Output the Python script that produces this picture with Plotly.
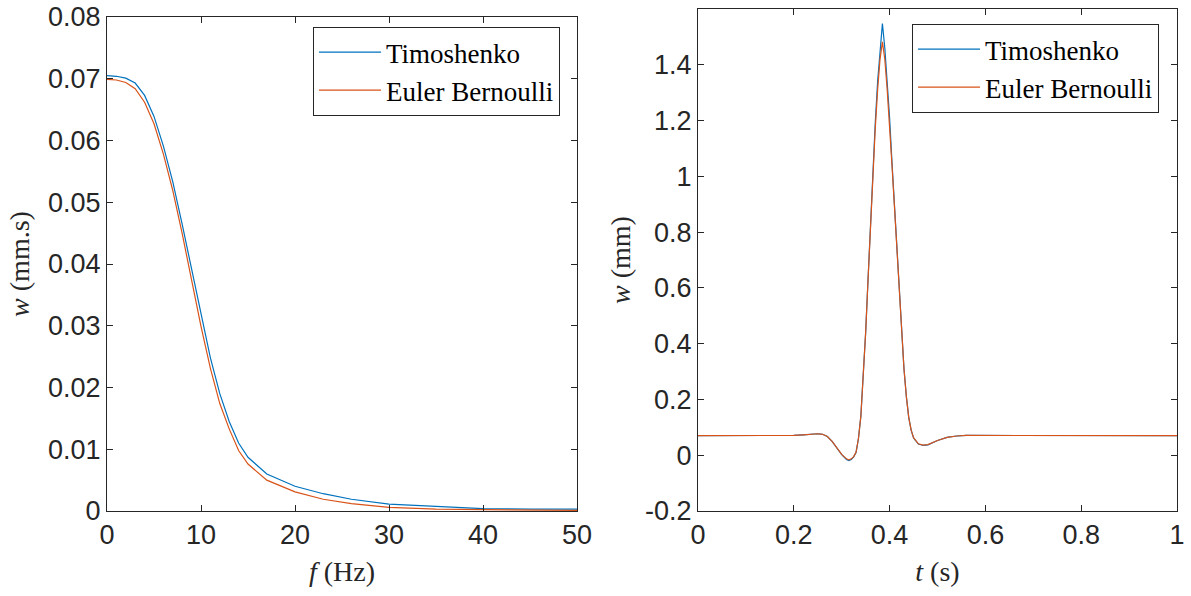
import plotly.graph_objects as go

# ---------------- data: left panel (frequency domain) ----------------
freq = [0, 1, 2, 3, 4, 5, 6, 7, 8, 9, 10, 11, 12, 13, 14, 15, 17, 20, 23, 26, 30, 35, 40, 45, 50]
timo_f = [0.0705, 0.0704, 0.0701, 0.0693, 0.0673, 0.0639, 0.0591, 0.0533, 0.0464, 0.0390,
          0.0316, 0.0248, 0.0190, 0.0145, 0.0110, 0.0087, 0.0060, 0.0040, 0.0028, 0.0019,
          0.0011, 0.0007, 0.0004, 0.0003, 0.0003]
euler_f = [0.0699, 0.0698, 0.0694, 0.0684, 0.0662, 0.0627, 0.0578, 0.0519, 0.0449, 0.0374,
           0.0299, 0.0231, 0.0174, 0.0133, 0.0098, 0.0076, 0.0050, 0.0031, 0.0019, 0.0012,
           0.0006, 0.0003, 0.0002, 0.0001, 0.0001]

# ---------------- data: right panel (time domain) ----------------
time = [0, 0.05, 0.1, 0.15, 0.2, 0.22, 0.24, 0.25, 0.26, 0.27, 0.28, 0.29, 0.30, 0.31, 0.315,
        0.32, 0.325, 0.33, 0.335, 0.34, 0.345, 0.35, 0.355, 0.36, 0.365, 0.37, 0.375, 0.38,
        0.385, 0.39, 0.395, 0.40, 0.405, 0.41, 0.415, 0.42, 0.425, 0.43, 0.435, 0.44, 0.445,
        0.45, 0.46, 0.47, 0.48, 0.49, 0.50, 0.52, 0.54, 0.56, 0.6, 0.7, 0.8, 0.9, 1.0]
timo_t = [0.070, 0.070, 0.070, 0.070, 0.071, 0.073, 0.076, 0.077, 0.075, 0.067, 0.050, 0.026,
          0.002, -0.015, -0.019, -0.015, -0.006, 0.010, 0.060, 0.140, 0.270, 0.440, 0.630,
          0.830, 1.030, 1.190, 1.340, 1.460, 1.548, 1.460, 1.340, 1.210, 1.050, 0.900, 0.740,
          0.580, 0.430, 0.310, 0.210, 0.135, 0.090, 0.062, 0.040, 0.035, 0.037, 0.045, 0.053,
          0.064, 0.069, 0.071, 0.071, 0.070, 0.070, 0.070, 0.070]
euler_t = [0.070, 0.070, 0.070, 0.070, 0.071, 0.073, 0.076, 0.077, 0.075, 0.067, 0.050, 0.027,
           0.003, -0.013, -0.017, -0.013, -0.005, 0.011, 0.060, 0.140, 0.270, 0.440, 0.630,
           0.830, 1.020, 1.170, 1.310, 1.420, 1.482, 1.420, 1.310, 1.190, 1.040, 0.895, 0.738,
           0.580, 0.430, 0.310, 0.210, 0.135, 0.090, 0.063, 0.041, 0.036, 0.038, 0.045, 0.053,
           0.064, 0.069, 0.071, 0.071, 0.070, 0.070, 0.070, 0.070]

series_names = ["Timoshenko", "Euler Bernoulli"]
colors = ["#0072BD", "#D95319"]

left_xticks = [0, 10, 20, 30, 40, 50]
left_yticks = [0, 0.01, 0.02, 0.03, 0.04, 0.05, 0.06, 0.07, 0.08]
left_ytext = ["0", "0.01", "0.02", "0.03", "0.04", "0.05", "0.06", "0.07", "0.08"]
right_xticks = [0, 0.2, 0.4, 0.6, 0.8, 1.0]
right_xtext = ["0", "0.2", "0.4", "0.6", "0.8", "1"]
right_yticks = [-0.2, 0, 0.2, 0.4, 0.6, 0.8, 1.0, 1.2, 1.4]
right_ytext = ["-0.2", "0", "0.2", "0.4", "0.6", "0.8", "1", "1.2", "1.4"]

W, H = 1191, 596
tick_font = dict(family="Liberation Sans, Arial, sans-serif", size=27, color="#262626")
title_font = dict(family="Liberation Serif, Times New Roman, serif", size=28, color="#262626")
legend_font = dict(family="Liberation Serif, Times New Roman, serif", size=27, color="#000000")

fig = go.Figure()
for name, yv, c in zip(series_names, [timo_f, euler_f], colors):
    fig.add_trace(go.Scatter(x=freq, y=yv, mode="lines", name=name,
                             line=dict(color=c, width=1.2), xaxis="x", yaxis="y",
                             legend="legend"))
for name, yv, c in zip(series_names, [timo_t, euler_t], colors):
    fig.add_trace(go.Scatter(x=time, y=yv, mode="lines", name=name,
                             line=dict(color=c, width=1.2), xaxis="x2", yaxis="y2",
                             legend="legend2"))

ax_common = dict(showline=True, linecolor="#262626", linewidth=1, mirror="ticks",
                 ticks="inside", ticklen=6, tickcolor="#262626", tickwidth=1,
                 showgrid=False, zeroline=False, tickfont=tick_font, automargin=False,
                 ticklabeloverflow="allow")

ydom_left = [1 - 511 / H, 1 - 17 / H]
ydom_right = [1 - 511 / H, 1 - 9 / H]
fig.update_layout(
    width=W, height=H, autosize=False,
    margin=dict(l=0, r=0, t=0, b=0),
    paper_bgcolor="white", plot_bgcolor="white",
    xaxis=dict(domain=[107 / W, 577 / W], range=[0, 50.00001], tickvals=left_xticks,
               title=dict(text="<i>f</i> (Hz)", font=title_font, standoff=11),
               anchor="y", **ax_common),
    yaxis=dict(domain=ydom_left, range=[0, 0.0800001], tickvals=left_yticks,
               ticktext=left_ytext,
               title=dict(text="<i>w</i> (mm.s)", font=title_font, standoff=10),
               anchor="x", **ax_common),
    xaxis2=dict(domain=[698 / W, 1177 / W], range=[0, 1.000001], tickvals=right_xticks,
                ticktext=right_xtext,
                title=dict(text="<i>t</i> (s)", font=title_font, standoff=11),
                anchor="y2", **ax_common),
    yaxis2=dict(domain=ydom_right, range=[-0.2, 1.6], tickvals=right_yticks,
                ticktext=right_ytext,
                title=dict(text="<i>w</i> (mm)", font=title_font, standoff=6),
                anchor="x2", **ax_common),
    legend=dict(x=560 / W, y=1 - 27 / H, xanchor="right", yanchor="top",
                bgcolor="white", bordercolor="#262626", borderwidth=1,
                font=legend_font, tracegroupgap=0, itemwidth=62),
    legend2=dict(x=1159 / W, y=1 - 24 / H, xanchor="right", yanchor="top",
                 bgcolor="white", bordercolor="#262626", borderwidth=1,
                 font=legend_font, tracegroupgap=0, itemwidth=62),
)

# remove the default 8px page margin so the figure fills the window exactly
fig.write_html("out.html", config={"displayModeBar": False},
               post_script="document.body.style.margin='0px';")
